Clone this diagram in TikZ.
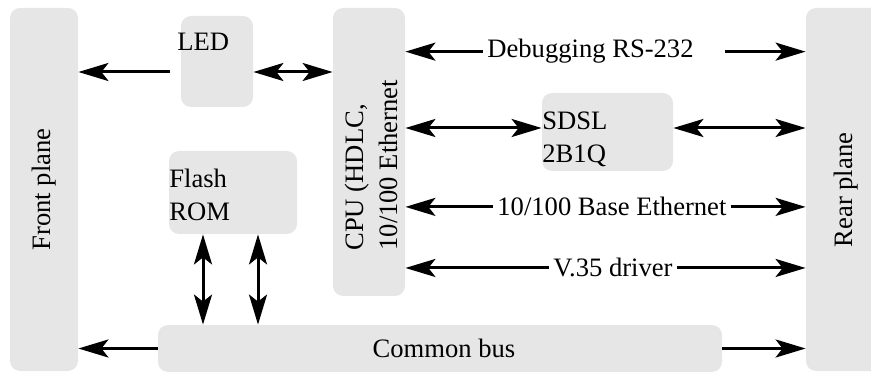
\documentclass[tikz,border=0pt]{standalone}
\usepackage{fontspec}
\setmainfont{Liberation Serif}
\usetikzlibrary{arrows.meta,fit}
\definecolor{boxgray}{HTML}{E6E6E6}

\begin{document}
\begin{tikzpicture}[x=0.5pt,y=-0.5pt,
    blk/.style={fill=boxgray,rounded corners=5pt,inner sep=0pt},
    lbl/.style={font=\fontsize{13.3}{16.75}\selectfont,inner sep=2pt},
    arr/.style={-{Stealth[length=15pt,width=9pt,inset=3.5pt]},line width=1.5pt},
    dbl/.style={{Stealth[length=15pt,width=9pt,inset=3.5pt]}-{Stealth[length=15pt,width=9pt,inset=3.5pt]},line width=1.5pt}]
\useasboundingbox (0,0) rectangle (871,373);
\clip (0,0) rectangle (871,373);
\node[blk,fit={(10,8) (78,371)}] (front) {};
\node[blk,fit={(806,8) (884,371)}] (rear) {};
\node[blk,fit={(333,8) (405,296)}] (cpu) {};
\node[blk,fit={(181,16) (253,107)}] (led) {};
\node[blk,fit={(169,151) (297,234)}] (flash) {};
\node[blk,fit={(542,93) (673,171)}] (sdsl) {};
\node[blk,fit={(158,325) (722,372)}] (bus) {};
\node[lbl,rotate=90] (frontl) at (front) {Front plane};
\node[lbl,rotate=90] (rearl) at (846,190) {Rear plane};
\node[lbl,rotate=90,anchor=base west,align=left] (cpul) at (397,255) {CPU (HDLC,\\10/100 Ethernet};
\node[lbl,anchor=base west] (ledl) at (173,51) {LED};
\node[lbl,anchor=base west,align=left] (flashl) at (165,221) {Flash\\ROM};
\node[lbl,anchor=base west,align=left] (sdsll) at (538,163) {SDSL\\2B1Q};
\node[lbl,anchor=base] (busl) at (444,357) {Common bus};
\node[lbl,anchor=base west] (dbg) at (483,58) {Debugging RS-232};
\node[lbl,anchor=base west] (eth) at (493,216) {10/100 Base Ethernet};
\node[lbl,anchor=base west] (v35) at (549,277) {V.35 driver};
\path ([yshift=-5.25pt]led.west) coordinate (ledrow)
      ([yshift=2pt]sdsl.west) coordinate (sdslrow)
      ([xshift=-15pt]flash.south) coordinate (fa)
      ([xshift=12.5pt]flash.south) coordinate (fb);
\draw[arr] ([xshift=-5.5pt]ledrow) -- (front.east |- ledrow);
\draw[dbl] (led.east |- ledrow) -- (cpu.west |- ledrow);
\draw[arr] (dbg.west) -- (cpu.east |- dbg.west);
\draw[arr] ([xshift=13.5pt]dbg.east) -- (rear.west |- dbg.east);
\draw[dbl] (cpu.east |- sdslrow) -- (sdslrow);
\draw[dbl] (sdsl.east |- sdslrow) -- (rear.west |- sdslrow);
\draw[arr] (eth.west) -- (cpu.east |- eth.west);
\draw[arr] (eth.east) -- (rear.west |- eth.east);
\draw[arr] (v35.west) -- (cpu.east |- v35.west);
\draw[arr] (v35.east) -- (rear.west |- v35.east);
\draw[dbl] (fa) -- (fa |- bus.north);
\draw[dbl] (fb) -- (fb |- bus.north);
\draw[arr] (bus.west) -- (front.east |- bus.west);
\draw[arr] (bus.east) -- (rear.west |- bus.east);
\end{tikzpicture}
\end{document}
